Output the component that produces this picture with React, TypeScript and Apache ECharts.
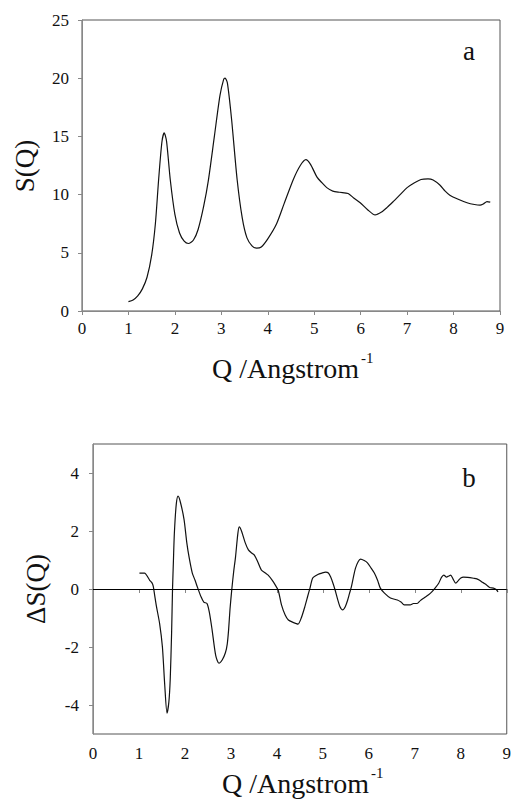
import React, { useEffect, useRef } from "react";
import * as echarts from "echarts";

// Panel a: S(Q)
const qA = [1.0, 1.1, 1.2, 1.3, 1.4, 1.5, 1.58, 1.65, 1.72, 1.77, 1.82, 1.9, 2.0, 2.1, 2.2, 2.29, 2.4, 2.5, 2.62, 2.72, 2.85, 2.97, 3.05, 3.08, 3.13, 3.22, 3.34, 3.45, 3.55, 3.66, 3.76, 3.86, 4.0, 4.19, 4.35, 4.55, 4.7, 4.82, 4.92, 5.06, 5.17, 5.27, 5.4, 5.55, 5.73, 5.85, 5.99, 6.15, 6.31, 6.45, 6.57, 6.7, 6.85, 7.0, 7.15, 7.3, 7.45, 7.56, 7.71, 7.82, 7.92, 8.1, 8.29, 8.45, 8.57, 8.64, 8.72, 8.79];
const sA = [0.8, 0.95, 1.3, 1.9, 2.9, 4.8, 7.5, 11.3, 14.5, 15.3, 14.6, 11.3, 8.3, 6.7, 6.0, 5.8, 6.1, 7.0, 9.0, 11.2, 15.0, 18.5, 19.9, 20.0, 19.6, 16.5, 11.3, 8.0, 6.3, 5.6, 5.4, 5.5, 6.2, 7.5, 9.2, 11.3, 12.5, 13.0, 12.6, 11.5, 11.0, 10.6, 10.3, 10.2, 10.1, 9.7, 9.3, 8.7, 8.25, 8.5, 8.9, 9.4, 10.0, 10.6, 11.0, 11.3, 11.35, 11.25, 10.8, 10.3, 9.95, 9.6, 9.3, 9.15, 9.1, 9.2, 9.4, 9.35];

// Panel b: ΔS(Q)
const qB = [1.01, 1.12, 1.23, 1.28, 1.31, 1.34, 1.38, 1.45, 1.51, 1.56, 1.61, 1.65, 1.68, 1.71, 1.73, 1.75, 1.77, 1.81, 1.85, 1.9, 1.98, 2.04, 2.09, 2.16, 2.22, 2.27, 2.35, 2.41, 2.48, 2.53, 2.59, 2.67, 2.74, 2.81, 2.88, 2.92, 2.95, 2.98, 3.02, 3.06, 3.1, 3.15, 3.18, 3.23, 3.31, 3.38, 3.45, 3.51, 3.58, 3.66, 3.75, 3.81, 3.9, 3.96, 4.03, 4.1, 4.18, 4.25, 4.35, 4.46, 4.53, 4.61, 4.67, 4.72, 4.78, 4.89, 4.98, 5.06, 5.12, 5.17, 5.22, 5.26, 5.32, 5.37, 5.43, 5.49, 5.54, 5.58, 5.62, 5.67, 5.71, 5.77, 5.82, 5.9, 5.97, 6.05, 6.12, 6.19, 6.25, 6.34, 6.47, 6.62, 6.7, 6.77, 6.9, 6.97, 7.05, 7.12, 7.2, 7.3, 7.37, 7.44, 7.52, 7.58, 7.63, 7.69, 7.74, 7.78, 7.83, 7.89, 7.95, 8.0, 8.06, 8.15, 8.28, 8.35, 8.4, 8.48, 8.56, 8.63, 8.71, 8.77, 8.81];
const dB = [0.55, 0.55, 0.31, 0.22, 0.1, -0.2, -0.6, -1.2, -2.0, -3.3, -4.28, -3.9, -3.1, -1.5, 0, 1.0, 1.93, 2.9, 3.2, 3.0, 2.4, 1.6, 1.1, 0.55, 0.3, 0.07, -0.27, -0.45, -0.5, -0.8, -1.4, -2.3, -2.56, -2.45, -2.2, -1.9, -1.4, -0.7, 0, 0.6, 1.1, 1.9, 2.14, 2.0, 1.6, 1.35, 1.24, 1.17, 0.95, 0.66, 0.55, 0.48, 0.3, 0.15, -0.05, -0.55, -0.9, -1.07, -1.15, -1.21, -1.0, -0.6, -0.25, 0.03, 0.38, 0.5, 0.55, 0.58, 0.55, 0.41, 0.2, 0, -0.35, -0.6, -0.72, -0.6, -0.38, -0.15, 0.07, 0.45, 0.72, 0.95, 1.03, 0.98, 0.9, 0.72, 0.55, 0.3, 0.03, -0.14, -0.31, -0.38, -0.45, -0.55, -0.55, -0.5, -0.5, -0.4, -0.31, -0.2, -0.1, 0.03, 0.2, 0.4, 0.48, 0.41, 0.45, 0.48, 0.35, 0.2, 0.3, 0.38, 0.41, 0.4, 0.37, 0.35, 0.31, 0.22, 0.14, 0.05, 0.03, -0.02, -0.1];

const yTicksA = [0, 5, 10, 15, 20, 25];
const yTicksB = [-4, -2, 0, 2, 4];
const xTicks = [0, 1, 2, 3, 4, 5, 6, 7, 8, 9];

const FONT = "Liberation Serif";

export default function App() {
  const ref = useRef<HTMLDivElement>(null);
  useEffect(() => {
    if (!ref.current) return;
    const chart = echarts.init(ref.current, null, { renderer: "svg" });
    const axisLabel = { fontFamily: FONT, fontSize: 17, color: "#111" };
    const axisLine = { show: true, lineStyle: { color: "#888", width: 1 } };
    const axisTick = { show: true, inside: false, length: 4, lineStyle: { color: "#888" } };
    const txt = (text: string, x: number, y: number, size: number, align: string, rot = 0) => ({
      type: "text", x, y, rotation: rot,
      style: { text, fontFamily: FONT, fontSize: size, fill: "#111", align, verticalAlign: "middle" },
    });
    chart.setOption({
      animation: false,
      backgroundColor: "#fff",
      grid: [
        { left: 82, top: 20, width: 418, height: 291, show: true, borderColor: "#555", borderWidth: 1 },
        { left: 93, top: 444, width: 418, height: 290, show: true, borderColor: "#555", borderWidth: 1 },
      ],
      xAxis: [
        {
          type: "value", gridIndex: 0, min: 0, max: 9, interval: 1,
          axisLine, axisTick, splitLine: { show: false },
          axisLabel: { ...axisLabel, margin: 9, customValues: xTicks },
        },
        {
          type: "value", gridIndex: 1, min: 0, max: 9, interval: 1,
          axisLine, axisTick, splitLine: { show: false },
          axisLabel: { ...axisLabel, margin: 11, customValues: xTicks },
        },
      ],
      yAxis: [
        {
          type: "value", gridIndex: 0, min: 0, max: 25, interval: 5,
          axisLine, axisTick: { ...axisTick, customValues: yTicksA }, splitLine: { show: false },
          axisLabel: { ...axisLabel, margin: 13, customValues: yTicksA },
        },
        {
          type: "value", gridIndex: 1, min: -5, max: 5, interval: 1,
          axisLine, axisTick: { ...axisTick, customValues: yTicksB }, splitLine: { show: false },
          axisLabel: {
            ...axisLabel, margin: 14, customValues: yTicksB,
            formatter: (v: number) => (yTicksB.indexOf(v) >= 0 ? String(v) : ""),
          },
        },
      ],
      series: [
        {
          type: "line", xAxisIndex: 0, yAxisIndex: 0,
          data: qA.map((q, i) => [q, sA[i]]),
          showSymbol: false, smooth: 0.25,
          lineStyle: { color: "#111", width: 1.2 },
        },
        {
          type: "line", xAxisIndex: 1, yAxisIndex: 1,
          data: qB.map((q, i) => [q, dB[i]]),
          showSymbol: false, smooth: 0.25,
          lineStyle: { color: "#111", width: 1.2 },
          markLine: {
            silent: true, symbol: "none", label: { show: false },
            lineStyle: { color: "#000", width: 1.2, type: "solid" },
            data: [{ yAxis: 0 }],
          },
        },
      ],
      graphic: [
        txt("S(Q)", 25, 166, 27, "center", Math.PI / 2),
        txt("ΔS(Q)", 36, 589, 27, "center", Math.PI / 2),
        txt("Q /Angstrom", 212, 368, 28, "left"),
        txt("-1", 361, 358, 15, "left"),
        txt("Q /Angstrom", 222, 783, 28, "left"),
        txt("-1", 371, 773, 15, "left"),
        txt("a", 469, 51, 27, "center"),
        txt("b", 469, 478, 27, "center"),
      ],
    });
    return () => chart.dispose();
  }, []);
  return (
    <div
      ref={ref}
      style={{ position: "fixed", left: 0, top: 0, width: 514, height: 806, background: "#fff" }}
    />
  );
}
